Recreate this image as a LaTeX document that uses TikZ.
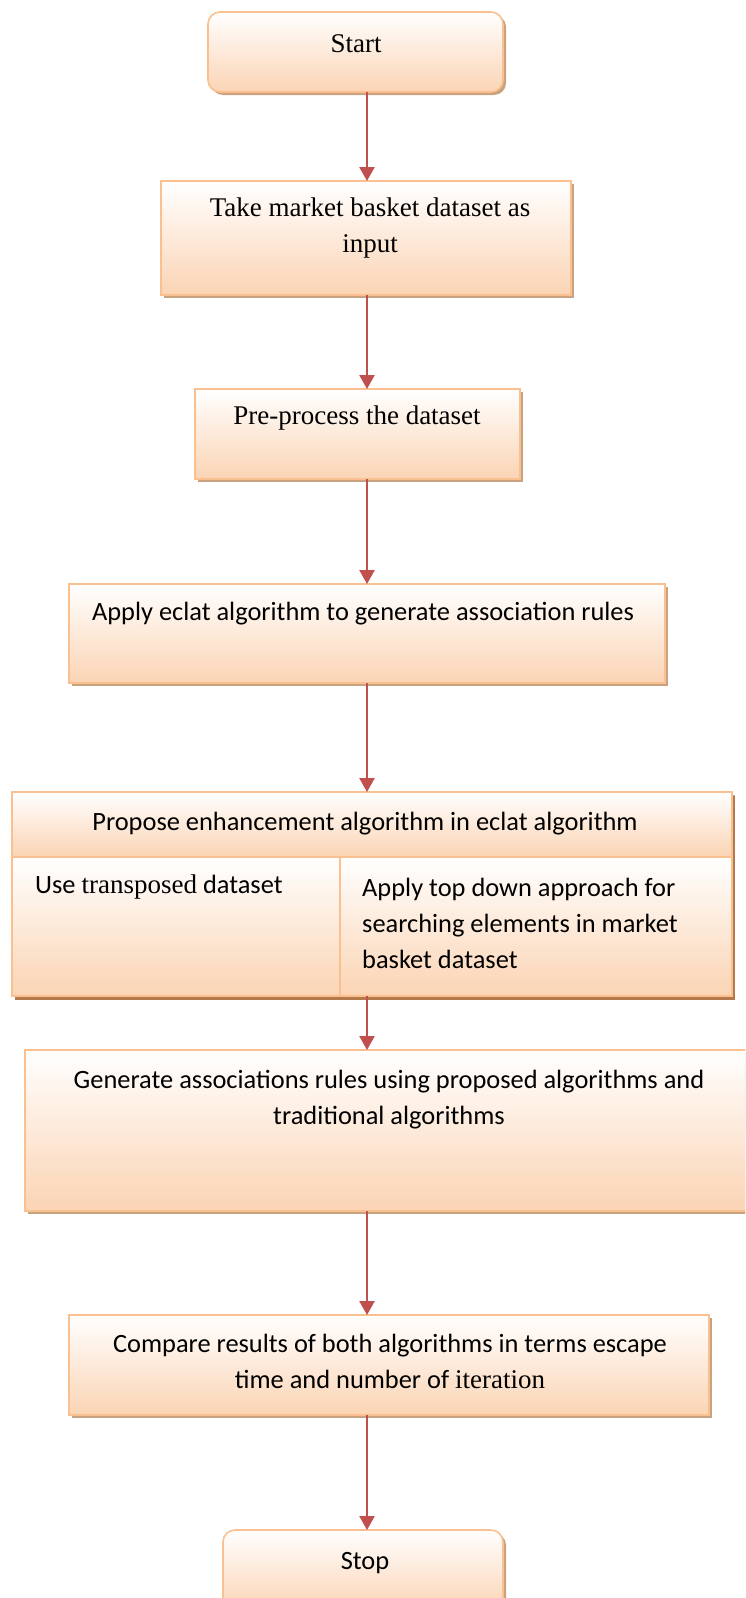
\documentclass[tikz,border=0pt]{standalone}
\usepackage{fontspec}
\setmainfont{Liberation Serif}
\newfontfamily\calibri{Carlito}
\usetikzlibrary{arrows.meta,shadows}
\definecolor{boxline}{HTML}{FAC08F}
\definecolor{boxfill}{HTML}{FBD4B4}
\definecolor{shadelight}{HTML}{C9A27F}
\definecolor{shadedark}{HTML}{B57A4C}
\definecolor{arrowred}{HTML}{C0504D}
\newcommand{\rmword}[1]{{\rmfamily\fontsize{27}{36}\selectfont #1}}
\begin{document}
\begin{tikzpicture}[x=1pt,y=-1pt,
  box/.style={draw=boxline, line width=1.6pt, top color=white, bottom color=boxfill,
    inner sep=0pt, outer sep=0pt,
    drop shadow={shadow xshift=3pt, shadow yshift=-3pt, fill=shadelight, opacity=1}},
  roundbox/.style={box, rounded corners=12pt},
  cell/.style={draw=boxline, line width=1.6pt, top color=white, bottom color=boxfill,
    inner sep=0pt, outer sep=0pt},
  serif/.style={font=\fontsize{27}{36}\selectfont, align=center, inner sep=0pt},
  sans/.style={font=\calibri\fontsize{26.4}{36}\selectfont, align=center, inner sep=0pt},
  arr/.style={draw=arrowred, line width=2.6pt, -{Triangle[width=15pt,length=14pt]}}
]
\useasboundingbox (0,0) rectangle (745,1598);
\clip (0,0) rectangle (745,1598);

% flow boxes
\node[roundbox, minimum width=295pt, minimum height=80pt] (start) at (355.5,52) {};
\node[box, minimum width=410pt, minimum height=114pt] (take) at (366,238) {};
\node[box, minimum width=325pt, minimum height=90pt] (pre) at (357.5,434) {};
\node[box, minimum width=596pt, minimum height=99pt] (apply) at (367,633.5) {};

% enhancement block: outer frame with header and two cells
\node[box, minimum width=720pt, minimum height=204pt,
  drop shadow={shadow xshift=3pt, shadow yshift=-4pt, fill=shadedark, opacity=1}] (prop) at (372,894) {};
\node[cell, minimum width=720pt, minimum height=65pt] (propH) at (372,824.5) {};
\node[cell, minimum width=328pt, minimum height=139pt] (propL) at (176,926.5) {};
\node[cell, minimum width=392pt, minimum height=139pt] (propR) at (536,926.5) {};

\node[box, minimum width=723pt, minimum height=161pt] (gen) at (386.5,1130.5) {};
\node[box, minimum width=640pt, minimum height=100pt] (comp) at (389,1365) {};
\node[roundbox, minimum width=280pt, minimum height=80pt] (stop) at (363,1570) {};

% texts
\node[serif] (startT) at (356,44) {Start};
\node[serif] (takeT) at (370,228) {Take market basket dataset as\\input};
\node[serif] (preT) at (357,418) {Pre-process the dataset};
\node[sans] (applyT) at (363,614) {Apply eclat algorithm to generate association rules};
\node[sans] (propHT) at (365,824) {Propose enhancement algorithm in eclat algorithm};
\node[sans, anchor=west] (propLT) at (35,887) {Use \rmword{transposed} dataset};
\node[sans, align=left, anchor=west] (propRT) at (362,923)
  {Apply top down approach for\\searching elements in market\\basket dataset};
\node[sans] (genT) at (389,1099.5)
  {Generate associations rules using proposed algorithms and\\traditional algorithms};
\node[sans] (compT) at (390,1361)
  {Compare results of both algorithms in terms escape\\time and number of \rmword{iteration}};
\node[sans] (stopT) at (365,1563) {Stop};

% connectors along the common axis
\coordinate (axis) at (367,0);
\draw[arr] (axis |- start.south) -- (axis |- take.north);
\draw[arr] (axis |- take.south) -- (axis |- pre.north);
\draw[arr] (axis |- pre.south) -- (axis |- apply.north);
\draw[arr] (axis |- apply.south) -- (axis |- prop.north);
\draw[arr] (axis |- prop.south) -- (axis |- gen.north);
\draw[arr] (axis |- gen.south) -- (axis |- comp.north);
\draw[arr] (axis |- comp.south) -- (axis |- stop.north);
\end{tikzpicture}
\end{document}
